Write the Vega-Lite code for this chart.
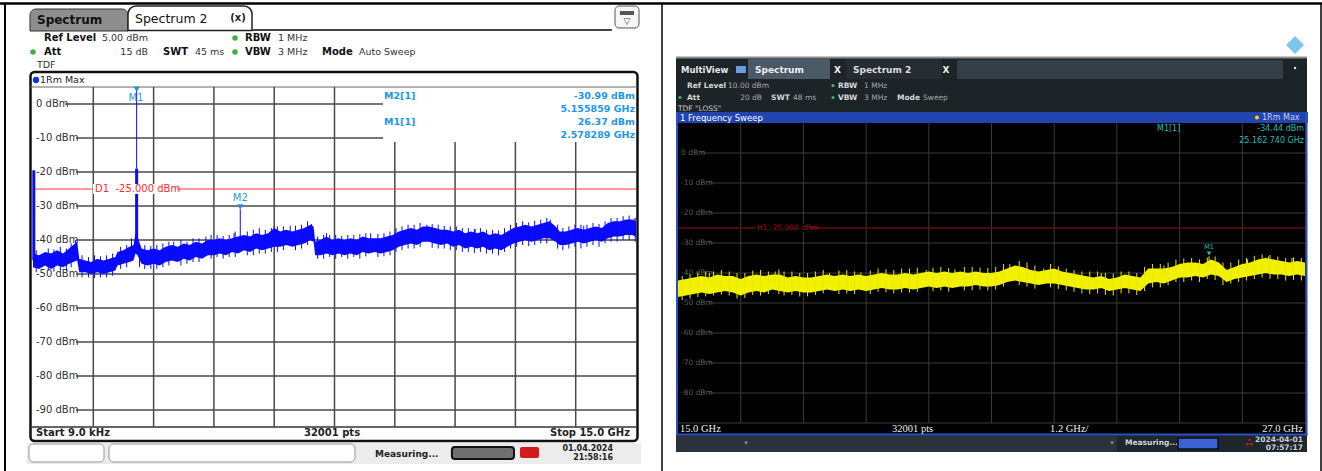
{
"$schema": "https://vega.github.io/schema/vega-lite/v6.json",
"width": 1322, "height": 471,
"autosize": {"type": "none"},
"padding": 0,
"background": "white",
"config": {"view": {"stroke": null}, "text": {"font": "DejaVu Sans", "baseline": "middle", "align": "left"}},
"data": {"values": [{}]},
"datasets": {
"L": [{"f":0.00,"lo":-48,"hi":-44},{"f":0.15,"lo":-48.5,"hi":-44.5},{"f":0.30,"lo":-47.5,"hi":-43.5},{"f":0.45,"lo":-48.5,"hi":-44},{"f":0.60,"lo":-47.5,"hi":-43},{"f":0.75,"lo":-48,"hi":-44},{"f":0.90,"lo":-47,"hi":-42.5},{"f":1.00,"lo":-46.5,"hi":-41.5},{"f":1.10,"lo":-46,"hi":-40.5},{"f":1.15,"lo":-49.5,"hi":-45.5},{"f":1.30,"lo":-49.5,"hi":-46},{"f":1.45,"lo":-50,"hi":-46.5},{"f":1.60,"lo":-49.5,"hi":-45.5},{"f":1.75,"lo":-50,"hi":-46},{"f":1.90,"lo":-49.5,"hi":-45.5},{"f":2.05,"lo":-49,"hi":-45},{"f":2.10,"lo":-47.5,"hi":-43.5},{"f":2.25,"lo":-47,"hi":-43},{"f":2.40,"lo":-46.5,"hi":-42},{"f":2.50,"lo":-46,"hi":-41.5},{"f":2.55,"lo":-44,"hi":-38},{"f":2.60,"lo":-44.5,"hi":-39},{"f":2.70,"lo":-47,"hi":-42.5},{"f":2.85,"lo":-47.5,"hi":-43},{"f":3.00,"lo":-47,"hi":-42.5},{"f":3.15,"lo":-47.5,"hi":-43},{"f":3.30,"lo":-46.5,"hi":-42},{"f":3.45,"lo":-46,"hi":-41.5},{"f":3.60,"lo":-46.5,"hi":-42},{"f":3.75,"lo":-45.5,"hi":-41},{"f":3.90,"lo":-46,"hi":-41.5},{"f":4.05,"lo":-45,"hi":-40.5},{"f":4.20,"lo":-45.5,"hi":-41},{"f":4.35,"lo":-44.5,"hi":-40},{"f":4.50,"lo":-44.5,"hi":-40},{"f":4.65,"lo":-44,"hi":-39.5},{"f":4.80,"lo":-44.5,"hi":-40},{"f":4.95,"lo":-43.5,"hi":-39.5},{"f":5.10,"lo":-44,"hi":-39},{"f":5.25,"lo":-43,"hi":-38.5},{"f":5.40,"lo":-43.5,"hi":-39},{"f":5.55,"lo":-42.5,"hi":-38},{"f":5.70,"lo":-43,"hi":-38.5},{"f":5.85,"lo":-42.5,"hi":-38},{"f":6.00,"lo":-42,"hi":-36.5},{"f":6.15,"lo":-42,"hi":-37.5},{"f":6.30,"lo":-41.5,"hi":-37},{"f":6.45,"lo":-42,"hi":-37.5},{"f":6.60,"lo":-41.5,"hi":-37},{"f":6.75,"lo":-41,"hi":-36.5},{"f":6.90,"lo":-40,"hi":-35.5},{"f":6.98,"lo":-40.5,"hi":-36},{"f":7.02,"lo":-44.5,"hi":-40.5},{"f":7.15,"lo":-44.5,"hi":-40},{"f":7.30,"lo":-44,"hi":-39},{"f":7.45,"lo":-44.5,"hi":-40},{"f":7.60,"lo":-44,"hi":-39.5},{"f":7.75,"lo":-44.5,"hi":-40},{"f":7.90,"lo":-44,"hi":-39.5},{"f":8.05,"lo":-44.5,"hi":-40},{"f":8.20,"lo":-43.5,"hi":-39},{"f":8.35,"lo":-44,"hi":-39.5},{"f":8.50,"lo":-43.5,"hi":-39.5},{"f":8.65,"lo":-44,"hi":-39.5},{"f":8.80,"lo":-43.5,"hi":-39},{"f":8.95,"lo":-43,"hi":-38.5},{"f":9.10,"lo":-42,"hi":-37.5},{"f":9.25,"lo":-41.5,"hi":-37},{"f":9.40,"lo":-41,"hi":-36.5},{"f":9.55,"lo":-41.5,"hi":-37},{"f":9.70,"lo":-40.5,"hi":-36},{"f":9.85,"lo":-40.5,"hi":-36},{"f":10.00,"lo":-41,"hi":-36.5},{"f":10.15,"lo":-41.5,"hi":-37},{"f":10.30,"lo":-41,"hi":-37},{"f":10.45,"lo":-42,"hi":-37.5},{"f":10.60,"lo":-41.5,"hi":-37},{"f":10.75,"lo":-42.5,"hi":-38},{"f":10.90,"lo":-42,"hi":-37.5},{"f":11.05,"lo":-42.5,"hi":-38},{"f":11.20,"lo":-42,"hi":-37.5},{"f":11.35,"lo":-43,"hi":-38.5},{"f":11.50,"lo":-42.5,"hi":-38},{"f":11.65,"lo":-43,"hi":-38.5},{"f":11.80,"lo":-42,"hi":-37.5},{"f":11.95,"lo":-41,"hi":-36.5},{"f":12.10,"lo":-40.5,"hi":-36},{"f":12.25,"lo":-40,"hi":-35.5},{"f":12.40,"lo":-40.5,"hi":-36},{"f":12.55,"lo":-40,"hi":-35.5},{"f":12.70,"lo":-39.5,"hi":-35},{"f":12.85,"lo":-39.5,"hi":-34.5},{"f":13.00,"lo":-40.5,"hi":-36},{"f":13.10,"lo":-41.5,"hi":-37.5},{"f":13.25,"lo":-41.5,"hi":-37.5},{"f":13.40,"lo":-41,"hi":-37},{"f":13.55,"lo":-40.5,"hi":-36.5},{"f":13.70,"lo":-41,"hi":-37},{"f":13.85,"lo":-40.5,"hi":-36.5},{"f":14.00,"lo":-40,"hi":-36},{"f":14.15,"lo":-40.5,"hi":-36.5},{"f":14.30,"lo":-39.5,"hi":-35},{"f":14.45,"lo":-39,"hi":-34.5},{"f":14.60,"lo":-39,"hi":-34.5},{"f":14.75,"lo":-38.5,"hi":-34},{"f":14.90,"lo":-38.5,"hi":-34},{"f":15.00,"lo":-39,"hi":-34.5}],
"Lsp": [{"f":1.06,"top":-40,"bot":-44},{"f":2.45,"top":-39.5,"bot":-43},{"f":2.578,"top":5,"bot":-19},{"f":5.156,"top":-30.99,"bot":-40},{"f":6.0,"top":-36,"bot":-40},{"f":6.93,"top":-35.3,"bot":-39},{"f":7.3,"top":-38,"bot":-41},{"f":9.8,"top":-35.5,"bot":-39},{"f":12.87,"top":-34,"bot":-38},{"f":14.95,"top":-33.8,"bot":-37},{"f":3.5,"top":-40.5,"bot":-43},{"f":4.3,"top":-39,"bot":-42},{"f":5.0,"top":-38,"bot":-41},{"f":6.4,"top":-35.8,"bot":-39},{"f":8.4,"top":-38,"bot":-41},{"f":11.0,"top":-36.8,"bot":-40},{"f":13.7,"top":-35.8,"bot":-39},
{"f":0.08,"top":-43,"bot":-49.5},{"f":0.38,"top":-42.5,"bot":-49},{"f":0.52,"top":-42.8,"bot":-49.3},{"f":0.68,"top":-42,"bot":-48.8},{"f":0.83,"top":-42.5,"bot":-49},{"f":0.95,"top":-41,"bot":-48},{"f":1.22,"top":-44.5,"bot":-51},{"f":1.38,"top":-45,"bot":-51},{"f":1.53,"top":-44.5,"bot":-51.2},{"f":1.68,"top":-44.8,"bot":-51},{"f":1.83,"top":-44.5,"bot":-51},{"f":1.98,"top":-44,"bot":-50.5},{"f":2.18,"top":-42,"bot":-48.5},{"f":2.33,"top":-41.5,"bot":-48},{"f":2.65,"top":-41.5,"bot":-48},{"f":2.78,"top":-41.5,"bot":-48.5},{"f":2.93,"top":-41.8,"bot":-48.5},{"f":3.08,"top":-41.5,"bot":-48.5},{"f":3.23,"top":-41,"bot":-48},{"f":3.38,"top":-40.5,"bot":-47.5},{"f":3.68,"top":-40,"bot":-47.5},{"f":3.83,"top":-40.5,"bot":-47},{"f":3.98,"top":-39.5,"bot":-46.5},{"f":4.13,"top":-39.5,"bot":-46.5},{"f":4.43,"top":-38.5,"bot":-45.5},{"f":4.58,"top":-38.5,"bot":-45},{"f":4.73,"top":-38.8,"bot":-45.5},{"f":4.88,"top":-38.5,"bot":-45},{"f":5.03,"top":-37.5,"bot":-45},{"f":5.33,"top":-37.5,"bot":-44.5},{"f":5.48,"top":-37,"bot":-44.5},{"f":5.63,"top":-36.5,"bot":-44},{"f":5.78,"top":-37,"bot":-44},{"f":5.93,"top":-36.5,"bot":-43.5},{"f":6.08,"top":-36,"bot":-43.5},{"f":6.23,"top":-36,"bot":-43},{"f":6.53,"top":-35.8,"bot":-43},{"f":6.68,"top":-35.5,"bot":-42.5},{"f":6.83,"top":-34.5,"bot":-41.5},{"f":7.08,"top":-39,"bot":-45.5},{"f":7.23,"top":-38.5,"bot":-45.5},{"f":7.38,"top":-38.5,"bot":-45},{"f":7.53,"top":-38.5,"bot":-45.5},{"f":7.68,"top":-38.8,"bot":-45},{"f":7.83,"top":-38.5,"bot":-45.5},{"f":7.98,"top":-38.5,"bot":-45},{"f":8.13,"top":-38.3,"bot":-45.5},{"f":8.28,"top":-38,"bot":-44.8},{"f":8.58,"top":-38.2,"bot":-45},{"f":8.73,"top":-38,"bot":-44.8},{"f":8.88,"top":-37.5,"bot":-44.5},{"f":9.03,"top":-36.5,"bot":-43.5},{"f":9.18,"top":-36,"bot":-43},{"f":9.33,"top":-35.5,"bot":-42.5},{"f":9.48,"top":-35.5,"bot":-42.5},{"f":9.63,"top":-35,"bot":-42},{"f":9.93,"top":-35.3,"bot":-42.3},{"f":10.08,"top":-35.5,"bot":-42.5},{"f":10.23,"top":-35.8,"bot":-42.5},{"f":10.38,"top":-36,"bot":-43},{"f":10.53,"top":-36,"bot":-43},{"f":10.68,"top":-36.5,"bot":-43.5},{"f":10.83,"top":-36.5,"bot":-43.5},{"f":10.98,"top":-36.8,"bot":-43.8},{"f":11.13,"top":-36.5,"bot":-43.5},{"f":11.28,"top":-37,"bot":-44},{"f":11.43,"top":-37,"bot":-44},{"f":11.58,"top":-37.2,"bot":-44.5},{"f":11.73,"top":-36.5,"bot":-43.5},{"f":11.88,"top":-35.5,"bot":-42.5},{"f":12.03,"top":-35,"bot":-42},{"f":12.18,"top":-34.5,"bot":-41.5},{"f":12.33,"top":-34.8,"bot":-41.8},{"f":12.48,"top":-34.3,"bot":-41.5},{"f":12.63,"top":-34,"bot":-41},{"f":12.78,"top":-33.5,"bot":-41},{"f":13.05,"top":-35.5,"bot":-42.5},{"f":13.18,"top":-36.5,"bot":-43},{"f":13.33,"top":-36,"bot":-42.5},{"f":13.48,"top":-35.5,"bot":-42},{"f":13.63,"top":-35.5,"bot":-42.5},{"f":13.78,"top":-35.5,"bot":-42},{"f":13.93,"top":-35,"bot":-41.5},{"f":14.08,"top":-35.3,"bot":-42},{"f":14.23,"top":-34.5,"bot":-41},{"f":14.38,"top":-33.5,"bot":-40.5},{"f":14.53,"top":-33.5,"bot":-40.5},{"f":14.68,"top":-33,"bot":-40},{"f":14.83,"top":-32.8,"bot":-40},{"f":14.98,"top":-33.5,"bot":-40.5}],
"Lsp2": [{"f":0.02,"top":-19.5,"bot":-46},{"f":2.578,"top":-19,"bot":-42}],
"R": [{"f":15.00,"lo":-48,"hi":-42.5},{"f":15.15,"lo":-47.5,"hi":-42},{"f":15.30,"lo":-47,"hi":-41.5},{"f":15.45,"lo":-46.5,"hi":-41},{"f":15.60,"lo":-47,"hi":-41.5},{"f":15.75,"lo":-46.5,"hi":-40.5},{"f":15.90,"lo":-46,"hi":-41},{"f":16.05,"lo":-46.5,"hi":-41},{"f":16.20,"lo":-47.5,"hi":-42},{"f":16.35,"lo":-46.5,"hi":-41},{"f":16.50,"lo":-46,"hi":-40.5},{"f":16.65,"lo":-46.5,"hi":-41},{"f":16.80,"lo":-45.5,"hi":-40.5},{"f":16.95,"lo":-46,"hi":-40.5},{"f":17.10,"lo":-46.5,"hi":-41.5},{"f":17.25,"lo":-46,"hi":-41},{"f":17.40,"lo":-46.5,"hi":-41.5},{"f":17.55,"lo":-46.5,"hi":-41.5},{"f":17.70,"lo":-46,"hi":-41},{"f":17.85,"lo":-45.5,"hi":-40.5},{"f":18.00,"lo":-46,"hi":-41},{"f":18.15,"lo":-45.5,"hi":-40.5},{"f":18.30,"lo":-46,"hi":-41},{"f":18.45,"lo":-45.5,"hi":-40.5},{"f":18.60,"lo":-46,"hi":-41},{"f":18.75,"lo":-45.5,"hi":-40.5},{"f":18.90,"lo":-45,"hi":-40},{"f":19.05,"lo":-45.5,"hi":-40.5},{"f":19.20,"lo":-45.5,"hi":-40.5},{"f":19.35,"lo":-45,"hi":-40},{"f":19.50,"lo":-45.5,"hi":-40.5},{"f":19.65,"lo":-45,"hi":-40},{"f":19.80,"lo":-44.5,"hi":-39.5},{"f":19.95,"lo":-45,"hi":-40},{"f":20.10,"lo":-44.5,"hi":-39.5},{"f":20.25,"lo":-45,"hi":-40},{"f":20.40,"lo":-44.5,"hi":-39.5},{"f":20.55,"lo":-44.5,"hi":-40},{"f":20.70,"lo":-44,"hi":-39.5},{"f":20.85,"lo":-44.5,"hi":-40},{"f":21.00,"lo":-44.5,"hi":-40},{"f":21.15,"lo":-44,"hi":-39.5},{"f":21.30,"lo":-43,"hi":-38.5},{"f":21.45,"lo":-42.5,"hi":-37.5},{"f":21.60,"lo":-43,"hi":-38},{"f":21.75,"lo":-43.5,"hi":-39},{"f":21.90,"lo":-44,"hi":-39.5},{"f":22.05,"lo":-43.5,"hi":-39},{"f":22.20,"lo":-43.5,"hi":-38.5},{"f":22.35,"lo":-44,"hi":-39.5},{"f":22.50,"lo":-44.5,"hi":-40},{"f":22.65,"lo":-45,"hi":-40.5},{"f":22.80,"lo":-45.5,"hi":-41},{"f":22.95,"lo":-45.5,"hi":-41.5},{"f":23.10,"lo":-45,"hi":-41},{"f":23.25,"lo":-46,"hi":-42},{"f":23.40,"lo":-45.5,"hi":-41.5},{"f":23.55,"lo":-45,"hi":-40.5},{"f":23.70,"lo":-45.5,"hi":-41},{"f":23.85,"lo":-46,"hi":-41.5},{"f":24.00,"lo":-43.5,"hi":-38.5},{"f":24.15,"lo":-43,"hi":-38.5},{"f":24.30,"lo":-43.5,"hi":-38.5},{"f":24.45,"lo":-42.5,"hi":-38},{"f":24.60,"lo":-41.5,"hi":-37},{"f":24.75,"lo":-41.5,"hi":-36.5},{"f":24.90,"lo":-41,"hi":-36.5},{"f":25.05,"lo":-41.5,"hi":-37},{"f":25.20,"lo":-40.5,"hi":-35.5},{"f":25.35,"lo":-41,"hi":-36.5},{"f":25.50,"lo":-43,"hi":-39},{"f":25.65,"lo":-42,"hi":-38},{"f":25.80,"lo":-41.5,"hi":-37},{"f":25.95,"lo":-41,"hi":-36.5},{"f":26.10,"lo":-40.5,"hi":-35.5},{"f":26.25,"lo":-40,"hi":-35},{"f":26.40,"lo":-40.5,"hi":-35.5},{"f":26.55,"lo":-40.5,"hi":-36},{"f":26.70,"lo":-41,"hi":-36.5},{"f":26.85,"lo":-40.5,"hi":-36},{"f":27.00,"lo":-41,"hi":-36.5}],
"Rsp": [{"f":16.86,"top":-39.5,"bot":-43},{"f":17.9,"top":-40,"bot":-43},{"f":19.75,"top":-39,"bot":-42},{"f":21.35,"top":-37,"bot":-40},{"f":22.0,"top":-38.5,"bot":-42},{"f":24.3,"top":-37.5,"bot":-41},{"f":25.163,"top":-34.44,"bot":-38},{"f":25.9,"top":-35.5,"bot":-39},{"f":26.3,"top":-34.5,"bot":-38},{"f":26.75,"top":-35,"bot":-39},{"f":15.6,"top":-40,"bot":-43},{"f":18.5,"top":-39.8,"bot":-43},{"f":20.3,"top":-38.8,"bot":-42},{"f":23.1,"top":-40,"bot":-43},
{"f":15.08,"top":-41,"bot":-49},{"f":15.23,"top":-40.5,"bot":-48.5},{"f":15.38,"top":-39.8,"bot":-48},{"f":15.53,"top":-39.5,"bot":-47.8},{"f":15.68,"top":-39.5,"bot":-47.5},{"f":15.83,"top":-39,"bot":-47.2},{"f":15.98,"top":-39.5,"bot":-47.5},{"f":16.13,"top":-40,"bot":-48.5},{"f":16.28,"top":-40,"bot":-48.3},{"f":16.43,"top":-39.2,"bot":-47.3},{"f":16.58,"top":-39,"bot":-47.5},{"f":16.73,"top":-39.5,"bot":-47},{"f":16.93,"top":-38.8,"bot":-47},{"f":17.03,"top":-39.5,"bot":-47.5},{"f":17.18,"top":-39.5,"bot":-47.3},{"f":17.33,"top":-40,"bot":-47.8},{"f":17.48,"top":-40,"bot":-47.8},{"f":17.63,"top":-39.5,"bot":-47.3},{"f":17.78,"top":-39,"bot":-46.8},{"f":18.08,"top":-39.2,"bot":-47},{"f":18.23,"top":-39,"bot":-46.8},{"f":18.38,"top":-39.5,"bot":-47},{"f":18.68,"top":-39.2,"bot":-47},{"f":18.83,"top":-38.5,"bot":-46.3},{"f":18.98,"top":-38.8,"bot":-46.5},{"f":19.13,"top":-39,"bot":-46.8},{"f":19.28,"top":-38.5,"bot":-46.5},{"f":19.43,"top":-38.5,"bot":-46.5},{"f":19.58,"top":-38.2,"bot":-46.3},{"f":19.88,"top":-38.3,"bot":-46},{"f":20.03,"top":-38,"bot":-45.8},{"f":20.18,"top":-38.3,"bot":-46.2},{"f":20.48,"top":-38,"bot":-45.8},{"f":20.63,"top":-38,"bot":-45.8},{"f":20.78,"top":-38.2,"bot":-45.5},{"f":20.93,"top":-38.3,"bot":-45.8},{"f":21.08,"top":-38,"bot":-45.5},{"f":21.23,"top":-37,"bot":-44.5},{"f":21.53,"top":-36,"bot":-44},{"f":21.68,"top":-36.5,"bot":-44.5},{"f":21.83,"top":-37.5,"bot":-45.2},{"f":22.13,"top":-37,"bot":-44.8},{"f":22.28,"top":-37.8,"bot":-45.3},{"f":22.43,"top":-38.5,"bot":-45.8},{"f":22.58,"top":-39,"bot":-46.3},{"f":22.73,"top":-39.5,"bot":-46.8},{"f":22.88,"top":-39.5,"bot":-47},{"f":23.03,"top":-39.5,"bot":-46.8},{"f":23.18,"top":-40,"bot":-47.3},{"f":23.33,"top":-40.2,"bot":-47.5},{"f":23.48,"top":-39.5,"bot":-46.8},{"f":23.63,"top":-39.5,"bot":-46.8},{"f":23.78,"top":-40,"bot":-47.3},{"f":23.93,"top":-38,"bot":-46},{"f":24.08,"top":-37,"bot":-44.8},{"f":24.23,"top":-37,"bot":-44.8},{"f":24.38,"top":-36.5,"bot":-44},{"f":24.53,"top":-35.5,"bot":-43},{"f":24.68,"top":-35.2,"bot":-43},{"f":24.83,"top":-35,"bot":-42.5},{"f":24.98,"top":-35.5,"bot":-43},{"f":25.13,"top":-34.8,"bot":-42},{"f":25.28,"top":-34.5,"bot":-42.3},{"f":25.43,"top":-36.5,"bot":-44},{"f":25.58,"top":-36.5,"bot":-43.5},{"f":25.73,"top":-35.5,"bot":-43},{"f":25.88,"top":-35,"bot":-42.5},{"f":26.03,"top":-34.3,"bot":-42},{"f":26.18,"top":-33.8,"bot":-41.5},{"f":26.33,"top":-34,"bot":-42},{"f":26.48,"top":-34.5,"bot":-42},{"f":26.63,"top":-35,"bot":-42.5},{"f":26.78,"top":-34.8,"bot":-42.3},{"f":26.93,"top":-35,"bot":-42.5}],
"Lgx1": [{"f":1.5},{"f":3},{"f":4.5},{"f":6},{"f":7.5}],
"Lgx2": [{"f":9},{"f":10.5},{"f":12},{"f":13.5}],
"LgyB": [{"lev":-20},{"lev":-30},{"lev":-40},{"lev":-50},{"lev":-60},{"lev":-70},{"lev":-80},{"lev":-90}],
"Llab": [{"lev":0,"t":"0 dBm"},{"lev":-10,"t":"-10 dBm"},{"lev":-20,"t":"-20 dBm"},{"lev":-30,"t":"-30 dBm"},{"lev":-40,"t":"-40 dBm"},{"lev":-50,"t":"-50 dBm"},{"lev":-60,"t":"-60 dBm"},{"lev":-70,"t":"-70 dBm"},{"lev":-80,"t":"-80 dBm"},{"lev":-90,"t":"-90 dBm"}],
"Rgx": [{"f":16.2},{"f":17.4},{"f":18.6},{"f":19.8},{"f":21},{"f":22.2},{"f":23.4},{"f":24.6},{"f":25.8}],
"RgyB": [{"lev":-10},{"lev":-20},{"lev":-30},{"lev":-40},{"lev":-50},{"lev":-60},{"lev":-70},{"lev":-80}],
"Rlab": [{"lev":0,"t":"0 dBm"},{"lev":-10,"t":"-10 dBm"},{"lev":-20,"t":"-20 dBm"},{"lev":-30,"t":"-30 dBm"},{"lev":-40,"t":"-40 dBm"},{"lev":-50,"t":"-50 dBm"},{"lev":-60,"t":"-60 dBm"},{"lev":-70,"t":"-70 dBm"},{"lev":-80,"t":"-80 dBm"}]
},
"resolve": {"scale": {"x": "independent", "y": "independent"}},
"layer": [
{"layer": [
 {"mark":{"type":"rule","color":"#000","strokeWidth":2.5},"encoding":{"x":{"datum":-0.821,"type":"quantitative","scale":{"domain":[0,15],"range":[33,636],"nice":false,"zero":false},"axis":null},"x2":{"datum":32.07},"y":{"datum":29.56,"type":"quantitative","scale":{"domain":[-95,5],"range":[427,87],"nice":false,"zero":false},"axis":null}}},
 {"mark":{"type":"rule","color":"#000","strokeWidth":2},"encoding":{"x":{"datum":-0.697},"y":{"datum":29.7},"y2":{"datum":-107.94}}},
 {"mark":{"type":"rule","color":"#000","strokeWidth":1.5},"encoding":{"x":{"datum":15.647},"y":{"datum":29.7},"y2":{"datum":-107.94}}},
 {"mark":{"type":"rule","color":"#000","strokeWidth":1.5},"encoding":{"x":{"datum":32.04},"y":{"datum":29.7},"y2":{"datum":-107.94}}},
 {"mark":{"type":"rect","fill":"#8e8e8e","stroke":"#333","strokeWidth":1,"cornerRadiusTopLeft":6,"cornerRadiusTopRight":6},"encoding":{"x":{"datum":-0.075},"x2":{"datum":2.363},"y":{"datum":27.94},"y2":{"datum":21.47}}},
 {"mark":{"type":"text","text":"Spectrum","fontWeight":"bold","fontSize":12,"color":"#111"},"encoding":{"x":{"datum":0.0995},"y":{"datum":24.7}}},
 {"mark":{"type":"rect","fill":"#fff","stroke":"#222","strokeWidth":1.5,"cornerRadiusTopLeft":8,"cornerRadiusTopRight":8},"encoding":{"x":{"datum":2.363},"x2":{"datum":5.448},"y":{"datum":28.82},"y2":{"datum":21.6}}},
 {"mark":{"type":"text","text":"Spectrum 2","fontSize":12.5,"color":"#111"},"encoding":{"x":{"datum":2.537},"y":{"datum":25.0}}},
 {"mark":{"type":"text","text":"(x)","fontSize":10,"fontWeight":"bold","align":"center","color":"#222"},"encoding":{"x":{"datum":5.10},"y":{"datum":25.29}}},
 {"mark":{"type":"rule","color":"#444","strokeWidth":2},"encoding":{"x":{"datum":5.448},"x2":{"datum":14.40},"y":{"datum":21.76}}},
 {"mark":{"type":"rect","fill":"#f6f6f6","stroke":"#555","strokeWidth":1,"cornerRadius":4},"encoding":{"x":{"datum":14.478},"x2":{"datum":15.075},"y":{"datum":28.82},"y2":{"datum":22.35}}},
 {"mark":{"type":"rect","fill":"#555"},"encoding":{"x":{"datum":14.6},"x2":{"datum":14.95},"y":{"datum":27.35},"y2":{"datum":26.18}}},
 {"mark":{"type":"text","text":"▽","fontSize":9,"align":"center","color":"#444"},"encoding":{"x":{"datum":14.776},"y":{"datum":24.41}}},
 {"mark":{"type":"text","text":"Ref Level","fontWeight":"bold","fontSize":10,"color":"#111"},"encoding":{"x":{"datum":0.274},"y":{"datum":19.41}}},
 {"mark":{"type":"text","text":"5.00 dBm","fontSize":9.5,"color":"#333"},"encoding":{"x":{"datum":1.716},"y":{"datum":19.41}}},
 {"mark":{"type":"point","shape":"circle","filled":true,"color":"#3cb043","size":30,"opacity":1},"encoding":{"x":{"datum":5.025},"y":{"datum":19.41}}},
 {"mark":{"type":"text","text":"RBW","fontWeight":"bold","fontSize":10,"color":"#111"},"encoding":{"x":{"datum":5.274},"y":{"datum":19.41}}},
 {"mark":{"type":"text","text":"1 MHz","fontSize":9.5,"color":"#333"},"encoding":{"x":{"datum":6.095},"y":{"datum":19.41}}},
 {"mark":{"type":"point","shape":"circle","filled":true,"color":"#3cb043","size":30,"opacity":1},"encoding":{"x":{"datum":0},"y":{"datum":15.29}}},
 {"mark":{"type":"text","text":"Att","fontWeight":"bold","fontSize":10,"color":"#111"},"encoding":{"x":{"datum":0.274},"y":{"datum":15.29}}},
 {"mark":{"type":"text","text":"15 dB","fontSize":9.5,"color":"#333","align":"right"},"encoding":{"x":{"datum":2.861},"y":{"datum":15.29}}},
 {"mark":{"type":"text","text":"SWT","fontWeight":"bold","fontSize":10,"color":"#111"},"encoding":{"x":{"datum":3.234},"y":{"datum":15.29}}},
 {"mark":{"type":"text","text":"45 ms","fontSize":9.5,"color":"#333"},"encoding":{"x":{"datum":4.03},"y":{"datum":15.29}}},
 {"mark":{"type":"point","shape":"circle","filled":true,"color":"#3cb043","size":30,"opacity":1},"encoding":{"x":{"datum":5.025},"y":{"datum":15.29}}},
 {"mark":{"type":"text","text":"VBW","fontWeight":"bold","fontSize":10,"color":"#111"},"encoding":{"x":{"datum":5.274},"y":{"datum":15.29}}},
 {"mark":{"type":"text","text":"3 MHz","fontSize":9.5,"color":"#333"},"encoding":{"x":{"datum":6.095},"y":{"datum":15.29}}},
 {"mark":{"type":"text","text":"Mode","fontWeight":"bold","fontSize":10,"color":"#111"},"encoding":{"x":{"datum":7.189},"y":{"datum":15.29}}},
 {"mark":{"type":"text","text":"Auto Sweep","fontSize":9.5,"color":"#333"},"encoding":{"x":{"datum":8.109},"y":{"datum":15.29}}},
 {"mark":{"type":"text","text":"TDF","fontSize":9.5,"color":"#333"},"encoding":{"x":{"datum":0.0995},"y":{"datum":11.47}}},
 {"mark":{"type":"rect","fill":"#fff","stroke":"#111","strokeWidth":2.5,"cornerRadius":4},"encoding":{"x":{"datum":-0.062},"x2":{"datum":15.037},"y":{"datum":9.41},"y2":{"datum":-99.12}}},
 {"mark":{"type":"point","shape":"circle","filled":true,"color":"#1030e0","size":40,"opacity":1},"encoding":{"x":{"datum":0.0746},"y":{"datum":7.06}}},
 {"mark":{"type":"text","text":"1Rm Max","fontSize":9.5,"color":"#222"},"encoding":{"x":{"datum":0.174},"y":{"datum":7.06}}},
 {"mark":{"type":"rule","color":"#666","strokeWidth":1},"encoding":{"x":{"datum":-0.062},"x2":{"datum":15.037},"y":{"datum":5}}},
 {"mark":{"type":"rule","color":"#333","strokeWidth":1.5},"encoding":{"x":{"datum":-0.062},"x2":{"datum":15.037},"y":{"datum":-95}}},
 {"data":{"name":"Lgx1"},"mark":{"type":"rule","color":"#4a4a4a","strokeWidth":1.5},"encoding":{"x":{"field":"f","type":"quantitative"},"y":{"datum":-95},"y2":{"datum":5}}},
 {"data":{"name":"Lgx2"},"mark":{"type":"rule","color":"#4a4a4a","strokeWidth":1.5},"encoding":{"x":{"field":"f","type":"quantitative"},"y":{"datum":-95},"y2":{"datum":-11.18}}},
 {"mark":{"type":"rule","color":"#4a4a4a","strokeWidth":1.5},"encoding":{"x":{"datum":0.8},"x2":{"datum":8.706},"y":{"datum":0}}},
 {"mark":{"type":"rule","color":"#4a4a4a","strokeWidth":1.5},"encoding":{"x":{"datum":1.07},"x2":{"datum":8.706},"y":{"datum":-10}}},
 {"data":{"name":"LgyB"},"mark":{"type":"rule","color":"#4a4a4a","strokeWidth":1.5},"encoding":{"x":{"datum":1.07},"x2":{"datum":15},"y":{"field":"lev","type":"quantitative"}}},
 {"data":{"name":"Llab"},"mark":{"type":"text","fontSize":10,"color":"#333"},"encoding":{"x":{"datum":0.075},"y":{"field":"lev","type":"quantitative"},"text":{"field":"t"}}},
 {"mark":{"type":"rule","color":"#ff3030","strokeWidth":1},"encoding":{"x":{"datum":0},"x2":{"datum":15},"y":{"datum":-25}}},
 {"data":{"name":"L"},"mark":{"type":"area","color":"#0a0aff","opacity":1},"encoding":{"x":{"field":"f","type":"quantitative"},"y":{"field":"lo","type":"quantitative"},"y2":{"field":"hi"}}},
 {"data":{"name":"Lsp"},"mark":{"type":"rule","color":"#0a0aff","strokeWidth":1},"encoding":{"x":{"field":"f","type":"quantitative"},"y":{"field":"top","type":"quantitative"},"y2":{"field":"bot"}}},
 {"data":{"name":"Lsp2"},"mark":{"type":"rule","color":"#0a0aff","strokeWidth":3},"encoding":{"x":{"field":"f","type":"quantitative"},"y":{"field":"top","type":"quantitative"},"y2":{"field":"bot"}}},
 {"mark":{"type":"rect","fill":"#fff"},"encoding":{"x":{"datum":1.4925},"x2":{"datum":3.582},"y":{"datum":-23.5},"y2":{"datum":-26.5}}},
 {"mark":{"type":"text","text":"D1\u00a0\u00a0-25.000 dBm","fontSize":10,"color":"#ff2a2a"},"encoding":{"x":{"datum":1.542},"y":{"datum":-25}}},
 {"mark":{"type":"point","shape":"triangle-down","filled":true,"color":"#1e8fe6","size":35,"opacity":1},"encoding":{"x":{"datum":2.578},"y":{"datum":4.3}}},
 {"mark":{"type":"text","text":"M1","fontSize":10,"align":"center","color":"#2a9be0"},"encoding":{"x":{"datum":2.56},"y":{"datum":1.76}}},
 {"mark":{"type":"point","shape":"triangle-down","filled":true,"color":"#1e8fe6","size":40,"opacity":1},"encoding":{"x":{"datum":5.156},"y":{"datum":-30.3}}},
 {"mark":{"type":"text","text":"M2","fontSize":10,"align":"center","color":"#2a9be0"},"encoding":{"x":{"datum":5.156},"y":{"datum":-27.5}}},
 {"mark":{"type":"text","text":"M2[1]","fontSize":9.5,"fontWeight":"bold","color":"#1e96e6"},"encoding":{"x":{"datum":8.731},"y":{"datum":2.35}}},
 {"mark":{"type":"text","text":"-30.99 dBm","fontSize":9.5,"fontWeight":"bold","color":"#1e96e6","align":"right"},"encoding":{"x":{"datum":14.975},"y":{"datum":2.35}}},
 {"mark":{"type":"text","text":"5.155859 GHz","fontSize":9.5,"fontWeight":"bold","color":"#1e96e6","align":"right"},"encoding":{"x":{"datum":14.975},"y":{"datum":-1.47}}},
 {"mark":{"type":"text","text":"M1[1]","fontSize":9.5,"fontWeight":"bold","color":"#1e96e6"},"encoding":{"x":{"datum":8.731},"y":{"datum":-5.29}}},
 {"mark":{"type":"text","text":"26.37 dBm","fontSize":9.5,"fontWeight":"bold","color":"#1e96e6","align":"right"},"encoding":{"x":{"datum":14.975},"y":{"datum":-5.29}}},
 {"mark":{"type":"text","text":"2.578289 GHz","fontSize":9.5,"fontWeight":"bold","color":"#1e96e6","align":"right"},"encoding":{"x":{"datum":14.975},"y":{"datum":-9.12}}},
 {"mark":{"type":"text","text":"Start 9.0 kHz","fontSize":10,"fontWeight":"bold","color":"#222"},"encoding":{"x":{"datum":0.0746},"y":{"datum":-96.9}}},
 {"mark":{"type":"text","text":"32001 pts","fontSize":10,"fontWeight":"bold","color":"#222","align":"center"},"encoding":{"x":{"datum":7.438},"y":{"datum":-96.9}}},
 {"mark":{"type":"text","text":"Stop 15.0 GHz","fontSize":10,"fontWeight":"bold","color":"#222","align":"right"},"encoding":{"x":{"datum":14.85},"y":{"datum":-96.9}}},
 {"mark":{"type":"rect","fill":"#ececec"},"encoding":{"x":{"datum":-0.149},"x2":{"datum":15.124},"y":{"datum":-99.71},"y2":{"datum":-105.88}}},
 {"mark":{"type":"rect","fill":"#fff","stroke":"#999","strokeWidth":1,"cornerRadius":4},"encoding":{"x":{"datum":-0.0995},"x2":{"datum":1.766},"y":{"datum":-100},"y2":{"datum":-105.29}}},
 {"mark":{"type":"rect","fill":"#fff","stroke":"#999","strokeWidth":1,"cornerRadius":4},"encoding":{"x":{"datum":1.891},"x2":{"datum":8.01},"y":{"datum":-100},"y2":{"datum":-105.29}}},
 {"mark":{"type":"text","text":"Measuring...","fontSize":9,"fontWeight":"bold","color":"#222"},"encoding":{"x":{"datum":8.507},"y":{"datum":-102.94}}},
 {"mark":{"type":"rect","fill":"#707070","stroke":"#111","strokeWidth":2,"cornerRadius":3},"encoding":{"x":{"datum":10.42},"x2":{"datum":11.965},"y":{"datum":-100.88},"y2":{"datum":-104.41}}},
 {"mark":{"type":"rect","fill":"#d41a1a","cornerRadius":2},"encoding":{"x":{"datum":12.114},"x2":{"datum":12.587},"y":{"datum":-100.88},"y2":{"datum":-104.12}}},
 {"mark":{"type":"text","text":"01.04.2024","fontSize":8,"fontWeight":"bold","color":"#222","align":"right"},"encoding":{"x":{"datum":14.428},"y":{"datum":-101.47}}},
 {"mark":{"type":"text","text":"21:58:16","fontSize":8,"fontWeight":"bold","color":"#222","align":"right"},"encoding":{"x":{"datum":14.428},"y":{"datum":-104.12}}}
]},
{"layer": [
 {"mark":{"type":"point","shape":"diamond","filled":true,"color":"#7cc6ee","size":320,"opacity":1},"encoding":{"x":{"datum":26.809,"type":"quantitative","scale":{"domain":[15,27],"range":[678,1305],"nice":false,"zero":false},"axis":null},"y":{"datum":36,"type":"quantitative","scale":{"domain":[-90,10],"range":[423,123],"nice":false,"zero":false},"axis":null}}},
 {"mark":{"type":"rect","fill":"#1d2428"},"encoding":{"x":{"datum":14.962},"x2":{"datum":27.038},"y":{"datum":32},"y2":{"datum":-99.67}}},
 {"mark":{"type":"rule","color":"#8d8d8d","strokeWidth":2},"encoding":{"x":{"datum":14.962},"x2":{"datum":27.038},"y":{"datum":31.83}}},
 {"mark":{"type":"text","text":"MultiView","fontSize":8.5,"fontWeight":"bold","color":"#e8e8e8"},"encoding":{"x":{"datum":15.057},"y":{"datum":27.83}}},
 {"mark":{"type":"rect","fill":"#6a9be8"},"encoding":{"x":{"datum":16.11},"x2":{"datum":16.30},"y":{"datum":29},"y2":{"datum":26.67}}},
 {"mark":{"type":"rect","fill":"#4b5966"},"encoding":{"x":{"datum":16.34},"x2":{"datum":17.909},"y":{"datum":31.33},"y2":{"datum":24.67}}},
 {"mark":{"type":"text","text":"Spectrum","fontSize":9,"fontWeight":"bold","color":"#f0f0f0"},"encoding":{"x":{"datum":16.474},"y":{"datum":27.83}}},
 {"mark":{"type":"text","text":"X","fontSize":9,"fontWeight":"bold","color":"#f0f0f0","align":"center"},"encoding":{"x":{"datum":18.053},"y":{"datum":27.83}}},
 {"mark":{"type":"rect","fill":"#262d32"},"encoding":{"x":{"datum":18.215},"x2":{"datum":20.053},"y":{"datum":31.33},"y2":{"datum":24.67}}},
 {"mark":{"type":"text","text":"Spectrum 2","fontSize":9,"fontWeight":"bold","color":"#dcdcdc"},"encoding":{"x":{"datum":18.349},"y":{"datum":27.83}}},
 {"mark":{"type":"text","text":"X","fontSize":9,"fontWeight":"bold","color":"#f0f0f0","align":"center"},"encoding":{"x":{"datum":20.129},"y":{"datum":27.83}}},
 {"mark":{"type":"rect","fill":"#343e46"},"encoding":{"x":{"datum":20.34},"x2":{"datum":26.579},"y":{"datum":31},"y2":{"datum":24.67}}},
 {"mark":{"type":"point","shape":"circle","filled":true,"color":"#ddd","size":6,"opacity":1},"encoding":{"x":{"datum":26.809},"y":{"datum":28.33}}},
 {"mark":{"type":"text","text":"Ref Level","fontSize":7.5,"fontWeight":"bold","color":"#d8d8d8"},"encoding":{"x":{"datum":15.172},"y":{"datum":22.5}}},
 {"mark":{"type":"text","text":"10.00 dBm","fontSize":7.5,"color":"#a8a8a8"},"encoding":{"x":{"datum":15.957},"y":{"datum":22.5}}},
 {"mark":{"type":"point","shape":"circle","filled":true,"color":"#3fbf3f","size":10,"opacity":1},"encoding":{"x":{"datum":17.967},"y":{"datum":22.5}}},
 {"mark":{"type":"text","text":"RBW","fontSize":7.5,"fontWeight":"bold","color":"#d8d8d8"},"encoding":{"x":{"datum":18.062},"y":{"datum":22.5}}},
 {"mark":{"type":"text","text":"1 MHz","fontSize":7.5,"color":"#a8a8a8"},"encoding":{"x":{"datum":18.56},"y":{"datum":22.5}}},
 {"mark":{"type":"point","shape":"circle","filled":true,"color":"#3fbf3f","size":10,"opacity":1},"encoding":{"x":{"datum":15.038},"y":{"datum":18.5}}},
 {"mark":{"type":"text","text":"Att","fontSize":7.5,"fontWeight":"bold","color":"#d8d8d8"},"encoding":{"x":{"datum":15.172},"y":{"datum":18.5}}},
 {"mark":{"type":"text","text":"20 dB","fontSize":7.5,"color":"#a8a8a8","align":"right"},"encoding":{"x":{"datum":16.608},"y":{"datum":18.5}}},
 {"mark":{"type":"text","text":"SWT","fontSize":7.5,"fontWeight":"bold","color":"#d8d8d8"},"encoding":{"x":{"datum":16.78},"y":{"datum":18.5}}},
 {"mark":{"type":"text","text":"48 ms","fontSize":7.5,"color":"#a8a8a8"},"encoding":{"x":{"datum":17.2},"y":{"datum":18.5}}},
 {"mark":{"type":"point","shape":"circle","filled":true,"color":"#3fbf3f","size":10,"opacity":1},"encoding":{"x":{"datum":17.967},"y":{"datum":18.5}}},
 {"mark":{"type":"text","text":"VBW","fontSize":7.5,"fontWeight":"bold","color":"#d8d8d8"},"encoding":{"x":{"datum":18.062},"y":{"datum":18.5}}},
 {"mark":{"type":"text","text":"3 MHz","fontSize":7.5,"color":"#a8a8a8"},"encoding":{"x":{"datum":18.56},"y":{"datum":18.5}}},
 {"mark":{"type":"text","text":"Mode","fontSize":7.5,"fontWeight":"bold","color":"#d8d8d8"},"encoding":{"x":{"datum":19.19},"y":{"datum":18.5}}},
 {"mark":{"type":"text","text":"Sweep","fontSize":7.5,"color":"#a8a8a8"},"encoding":{"x":{"datum":19.689},"y":{"datum":18.5}}},
 {"mark":{"type":"text","text":"TDF \"LOSS\"","fontSize":7.5,"color":"#c8c8c8"},"encoding":{"x":{"datum":15.0},"y":{"datum":14.83}}},
 {"mark":{"type":"rect","fill":"#2244b0"},"encoding":{"x":{"datum":14.962},"x2":{"datum":27.057},"y":{"datum":13.67},"y2":{"datum":10}}},
 {"mark":{"type":"text","text":"1 Frequency Sweep","fontSize":8.5,"color":"#ffffff"},"encoding":{"x":{"datum":15.038},"y":{"datum":11.83}}},
 {"mark":{"type":"point","shape":"circle","filled":true,"color":"#ffd700","size":15,"opacity":1},"encoding":{"x":{"datum":26.081},"y":{"datum":11.83}}},
 {"mark":{"type":"text","text":"1Rm Max","fontSize":8,"color":"#c8d0e8"},"encoding":{"x":{"datum":26.177},"y":{"datum":11.83}}},
 {"mark":{"type":"rect","fill":"#000"},"encoding":{"x":{"datum":15},"x2":{"datum":27},"y":{"datum":10},"y2":{"datum":-93.67}}},
 {"data":{"name":"Rgx"},"mark":{"type":"rule","color":"#3a3a3a","strokeWidth":1},"encoding":{"x":{"field":"f","type":"quantitative"},"y":{"datum":-90},"y2":{"datum":10}}},
 {"mark":{"type":"rule","color":"#3a3a3a","strokeWidth":1},"encoding":{"x":{"datum":15.44},"x2":{"datum":27},"y":{"datum":0}}},
 {"data":{"name":"RgyB"},"mark":{"type":"rule","color":"#3a3a3a","strokeWidth":1},"encoding":{"x":{"datum":15.6},"x2":{"datum":27},"y":{"field":"lev","type":"quantitative"}}},
 {"mark":{"type":"rule","color":"#3a3a3a","strokeWidth":1},"encoding":{"x":{"datum":15},"x2":{"datum":27},"y":{"datum":-90}}},
 {"data":{"name":"Rlab"},"mark":{"type":"text","fontSize":7.5,"color":"#5e5e5e"},"encoding":{"x":{"datum":15.057},"y":{"field":"lev","type":"quantitative"},"text":{"field":"t"}}},
 {"mark":{"type":"rule","color":"#6a0a0a","strokeWidth":1.5},"encoding":{"x":{"datum":15},"x2":{"datum":27},"y":{"datum":-25}}},
 {"mark":{"type":"rect","fill":"#000"},"encoding":{"x":{"datum":16.474},"x2":{"datum":17.526},"y":{"datum":-23.6},"y2":{"datum":-26.4}}},
 {"mark":{"type":"text","text":"H1 -25.000 dBm","fontSize":7.5,"color":"#a01010"},"encoding":{"x":{"datum":16.512},"y":{"datum":-25}}},
 {"data":{"name":"R"},"mark":{"type":"area","color":"#f2f200","opacity":1},"encoding":{"x":{"field":"f","type":"quantitative"},"y":{"field":"lo","type":"quantitative"},"y2":{"field":"hi"}}},
 {"data":{"name":"Rsp"},"mark":{"type":"rule","color":"#e8e800","strokeWidth":1},"encoding":{"x":{"field":"f","type":"quantitative"},"y":{"field":"top","type":"quantitative"},"y2":{"field":"bot"}}},
 {"mark":{"type":"point","shape":"triangle-down","filled":true,"color":"#19c3c3","size":20,"opacity":1},"encoding":{"x":{"datum":25.163},"y":{"datum":-33.5}}},
 {"mark":{"type":"text","text":"M1","fontSize":6.5,"align":"center","color":"#19c3c3"},"encoding":{"x":{"datum":25.163},"y":{"datum":-31.3}}},
 {"mark":{"type":"text","text":"M1[1]","fontSize":8,"color":"#1fbfbf"},"encoding":{"x":{"datum":24.167},"y":{"datum":8}}},
 {"mark":{"type":"text","text":"-34.44 dBm","fontSize":8,"color":"#1fbfbf","align":"right"},"encoding":{"x":{"datum":26.981},"y":{"datum":8}}},
 {"mark":{"type":"text","text":"25.162 740 GHz","fontSize":8,"color":"#1fbfbf","align":"right"},"encoding":{"x":{"datum":26.981},"y":{"datum":4}}},
 {"mark":{"type":"rule","color":"#2a50c8","strokeWidth":2},"encoding":{"x":{"datum":14.981},"y":{"datum":13.67},"y2":{"datum":-94}}},
 {"mark":{"type":"rule","color":"#2a50c8","strokeWidth":2},"encoding":{"x":{"datum":27.029},"y":{"datum":13.67},"y2":{"datum":-94}}},
 {"mark":{"type":"rule","color":"#2a50c8","strokeWidth":2},"encoding":{"x":{"datum":14.962},"x2":{"datum":27.048},"y":{"datum":-93.83}}},
 {"mark":{"type":"text","text":"15.0 GHz","fontSize":10.5,"font":"Liberation Serif","color":"#f0f0f0"},"encoding":{"x":{"datum":15.038},"y":{"datum":-92}}},
 {"mark":{"type":"text","text":"32001 pts","fontSize":10.5,"font":"Liberation Serif","color":"#f0f0f0"},"encoding":{"x":{"datum":19.096},"y":{"datum":-92}}},
 {"mark":{"type":"text","text":"1.2 GHz/","fontSize":10.5,"font":"Liberation Serif","color":"#f0f0f0"},"encoding":{"x":{"datum":22.12},"y":{"datum":-92}}},
 {"mark":{"type":"text","text":"27.0 GHz","fontSize":10.5,"font":"Liberation Serif","color":"#f0f0f0","align":"right"},"encoding":{"x":{"datum":26.962},"y":{"datum":-92}}},
 {"mark":{"type":"rect","fill":"#2a333b"},"encoding":{"x":{"datum":14.962},"x2":{"datum":27.038},"y":{"datum":-94.3},"y2":{"datum":-99.67}}},
 {"mark":{"type":"rect","fill":"#1f272d"},"encoding":{"x":{"datum":23.402},"x2":{"datum":27.038},"y":{"datum":-94.3},"y2":{"datum":-99.67}}},
 {"mark":{"type":"text","text":"▾","fontSize":7,"color":"#8a9097","align":"center"},"encoding":{"x":{"datum":16.30},"y":{"datum":-96.67}}},
 {"mark":{"type":"text","text":"▾","fontSize":7,"color":"#8a9097","align":"center"},"encoding":{"x":{"datum":23.306},"y":{"datum":-96.67}}},
 {"mark":{"type":"text","text":"Measuring...","fontSize":7.5,"fontWeight":"bold","color":"#d0d6dc"},"encoding":{"x":{"datum":23.555},"y":{"datum":-96.67}}},
 {"mark":{"type":"rect","fill":"#3a62d4","stroke":"#0a0f1e","strokeWidth":1.5},"encoding":{"x":{"datum":24.569},"x2":{"datum":25.335},"y":{"datum":-95},"y2":{"datum":-98.67}}},
 {"mark":{"type":"text","text":"∴","fontSize":11,"fontWeight":"bold","color":"#e01818","align":"center"},"encoding":{"x":{"datum":25.928},"y":{"datum":-96.67}}},
 {"mark":{"type":"text","text":"2024-04-01","fontSize":7.5,"fontWeight":"bold","color":"#c8ced4","align":"right"},"encoding":{"x":{"datum":26.962},"y":{"datum":-95.5}}},
 {"mark":{"type":"text","text":"07:57:17","fontSize":7.5,"fontWeight":"bold","color":"#c8ced4","align":"right"},"encoding":{"x":{"datum":26.962},"y":{"datum":-98.17}}}
]}
]
}
